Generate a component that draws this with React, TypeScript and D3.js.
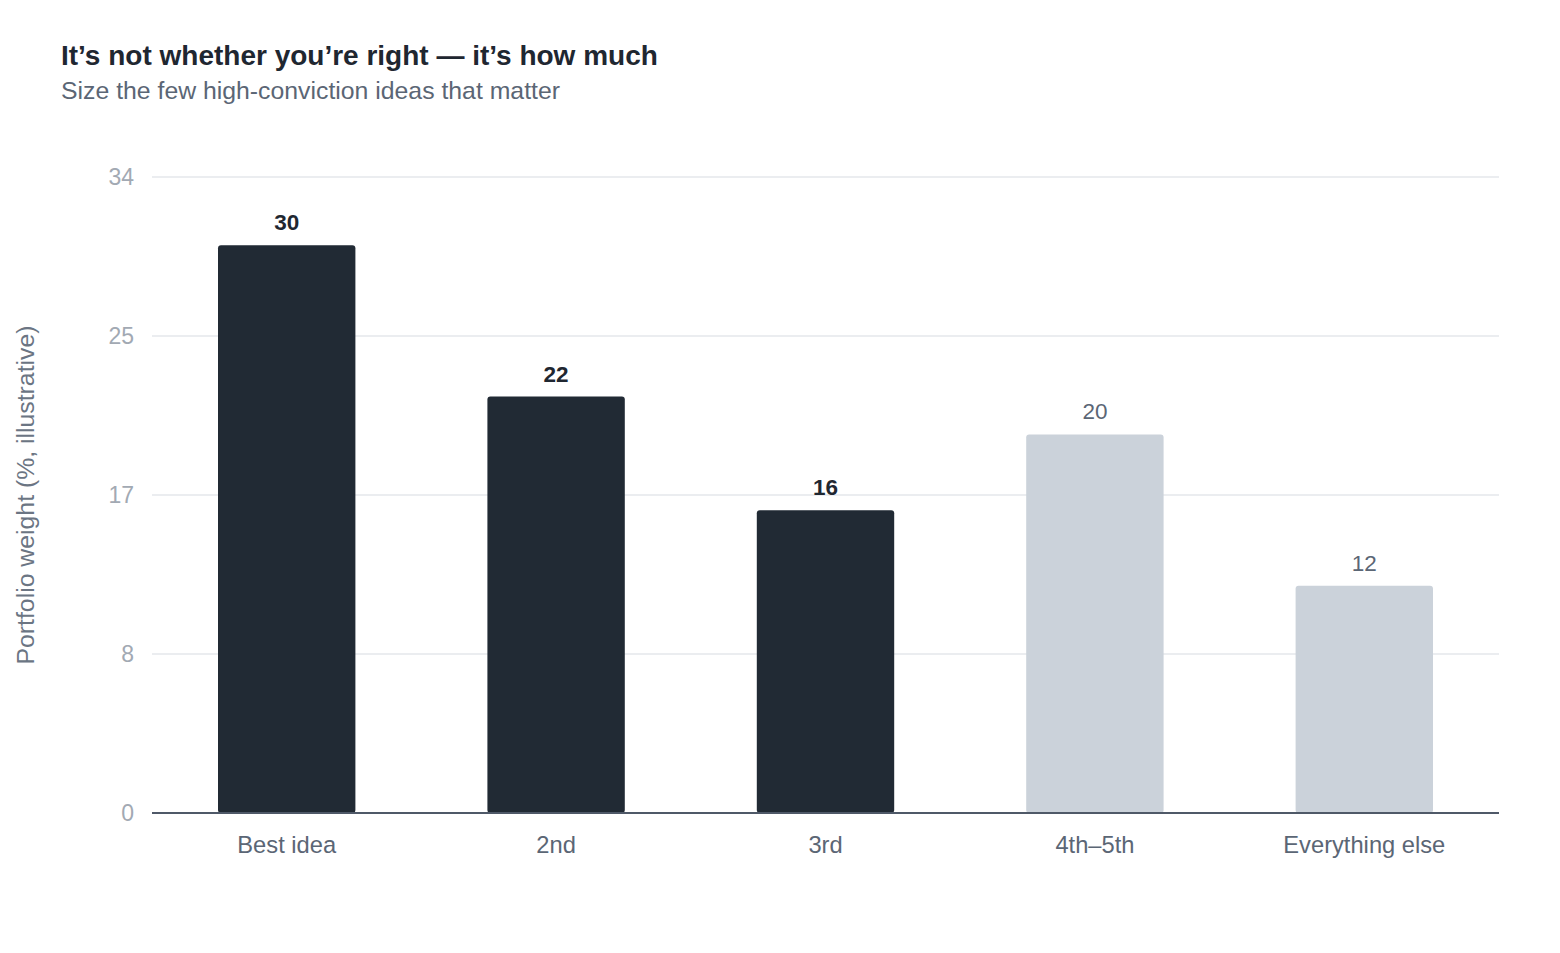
import React from "react";
import * as d3 from "d3";

const categories = ["Best idea", "2nd", "3rd", "4th–5th", "Everything else"];
const values = [30, 22, 16, 20, 12];
const highlighted = [true, true, true, false, false];
const tickValues = [0, 8.4, 16.8, 25.2, 33.6];
const tickLabels = ["0", "8", "17", "25", "34"];
const yMax = 33.6;

const W = 1560;
const H = 953;
const margin = { left: 152, right: 61, top: 177, bottom: 140 };
const FONT = "'Liberation Sans', Arial, Helvetica, sans-serif";

export default function App() {
  const plotW = W - margin.left - margin.right;
  const plotBottom = 813;
  const x = d3.scaleBand<string>().domain(categories).range([margin.left, margin.left + plotW]).paddingInner(0.49).paddingOuter(0.245);
  const y = d3.scaleLinear().domain([0, yMax]).range([plotBottom, margin.top]);

  return (
    <svg width={W} height={H} style={{ position: "absolute", left: 0, top: 0, fontFamily: FONT }}>
      <rect width={W} height={H} fill="#ffffff" />
      <text x={61} y={65} fontSize={28} fontWeight="bold" fill="#1f2731">
        It’s not whether you’re right — it’s how much
      </text>
      <text x={61} y={99} fontSize={24.8} fill="#5b6675">
        Size the few high-conviction ideas that matter
      </text>

      {tickValues.map((t, i) => (
        <g key={t}>
          {i > 0 && (
            <line x1={margin.left} x2={margin.left + plotW} y1={y(t)} y2={y(t)} stroke="#e5e7eb" strokeWidth={1.5} />
          )}
          <text x={134} y={y(t)} dy="0.35em" textAnchor="end" fontSize={23} fill="#a2a9b3">
            {tickLabels[i]}
          </text>
        </g>
      ))}

      <text
        transform={`translate(34,${(margin.top + plotBottom) / 2}) rotate(-90)`}
        textAnchor="middle"
        fontSize={24.8}
        fill="#6b7583"
      >
        Portfolio weight (%, illustrative)
      </text>

      {categories.map((c, i) => {
        const bx = x(c) as number;
        const bw = x.bandwidth();
        const top = y(values[i]);
        return (
          <g key={c}>
            <rect
              x={bx}
              y={top}
              width={bw}
              height={plotBottom - top}
              rx={3}
              ry={3}
              fill={highlighted[i] ? "#212a34" : "#cbd2da"}
            />
            <text
              x={bx + bw / 2}
              y={top - 15}
              textAnchor="middle"
              fontSize={22.5}
              fontWeight={highlighted[i] ? "bold" : "normal"}
              fill={highlighted[i] ? "#1f2731" : "#5b6675"}
            >
              {values[i]}
            </text>
            <text x={bx + bw / 2} y={853} textAnchor="middle" fontSize={23.7} fill="#5b6675">
              {c}
            </text>
          </g>
        );
      })}

      <line x1={margin.left} x2={margin.left + plotW} y1={plotBottom} y2={plotBottom} stroke="#4f5968" strokeWidth={2} />
    </svg>
  );
}
